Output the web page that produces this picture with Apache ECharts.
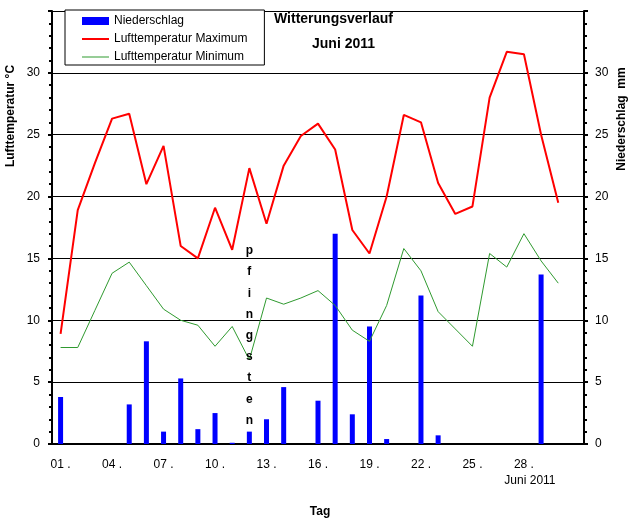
<!DOCTYPE html>
<html>
<head>
<meta charset="utf-8">
<script src="https://cdn.jsdelivr.net/npm/echarts@6/dist/echarts.min.js"></script>
<style>
  html, body { margin: 0; padding: 0; background: #fff; }
  #main { width: 634px; height: 526px; }
</style>
</head>
<body>
<div id="main"></div>
<script>
// Tage im Juni 2011 (letzter Platz leer)
var tage = ['01','02','03','04','05','06','07','08','09','10','11','12','13','14','15',
            '16','17','18','19','20','21','22','23','24','25','26','27','28','29','30',''];
// Niederschlag mm
var niederschlag = [3.8,0,0,0,3.2,8.3,1.0,5.3,1.2,2.5,0.1,1.0,2.0,4.6,0,
                    3.5,17.0,2.4,9.5,0.4,0,12.0,0.7,0,0,0,0,0,13.7,0];
// Lufttemperatur Maximum °C
var tMax = [8.9,18.9,22.7,26.3,26.7,21.0,24.1,16.0,15.0,19.1,15.7,22.3,17.8,22.5,24.9,
            25.9,23.8,17.3,15.4,20.0,26.6,26.0,21.1,18.6,19.2,28.0,31.7,31.5,25.0,19.5];
// Lufttemperatur Minimum °C
var tMin = [7.8,7.8,10.8,13.8,14.7,12.8,10.9,10.0,9.6,7.9,9.5,6.8,11.8,11.3,11.8,
            12.4,11.2,9.2,8.3,11.2,15.8,14.0,10.7,9.3,7.9,15.4,14.3,17.0,14.8,13.0];
// Achsenbeschriftung
var yTicks = [0,5,10,15,20,25,30];
var pfingstTag = 11; // Index: 12. Juni

var fnt = 'Arial, "Liberation Sans", sans-serif';

var myChart = echarts.init(document.getElementById('main'));

function yAchse(pos) {
  return {
    type: 'value',
    position: pos,
    min: 0,
    max: 35,
    interval: 5,
    axisLine: { show: true, lineStyle: { color: '#000', width: 2 } },
    axisTick: { show: true, length: 4, lineStyle: { color: '#000', width: 2 } },
    minorTick: { show: true, splitNumber: 5, length: 3, lineStyle: { color: '#000', width: 2 } },
    axisLabel: {
      margin: pos == 'left' ? 12 : 11,
      color: '#000', fontFamily: fnt, fontSize: 12,
      formatter: function (v) { return yTicks.indexOf(v) >= 0 ? String(v) : ''; }
    },
    splitLine: { show: pos == 'left', lineStyle: { color: '#000', width: 1 } }
  };
}

var option = {
  animation: false,
  backgroundColor: '#fff',
  textStyle: { fontFamily: fnt },
  title: [
    { text: 'Witterungsverlauf', left: 274, top: 12, padding: 0,
      textStyle: { fontSize: 14, fontWeight: 'bold', color: '#000', fontFamily: fnt } },
    { text: 'Juni 2011', left: 312, top: 37, padding: 0,
      textStyle: { fontSize: 14, fontWeight: 'bold', color: '#000', fontFamily: fnt } }
  ],
  legend: {
    orient: 'vertical',
    left: 65,
    top: 10,
    padding: [5, 17, 2, 17],
    itemGap: 6,
    itemWidth: 27,
    itemHeight: 8,
    borderColor: '#000',
    borderWidth: 1,
    backgroundColor: '#fff',
    textStyle: { fontSize: 12, color: '#000', fontFamily: fnt },
    data: [
      { name: 'Niederschlag', icon: 'rect' },
      { name: 'Lufttemperatur Maximum', icon: 'path://M0,0M27,8M0,3L27,3L27,5L0,5Z' },
      { name: 'Lufttemperatur Minimum', icon: 'path://M0,0M27,8M0,3.5L27,3.5L27,4.5L0,4.5Z' }
    ]
  },
  grid: { left: 52, right: 50, top: 11, bottom: 82, containLabel: false },
  xAxis: {
    type: 'category',
    data: tage,
    boundaryGap: true,
    axisLine: { lineStyle: { color: '#000', width: 2 } },
    axisTick: { interval: 0, length: 4, lineStyle: { color: '#000', width: 2 } },
    axisLabel: {
      interval: 2,
      margin: 13,
      color: '#000', fontFamily: fnt, fontSize: 12, lineHeight: 16,
      rich: {
        j: { fontSize: 12, color: '#000', fontFamily: fnt, lineHeight: 16, padding: [0, 0, 0, 12] }
      },
      formatter: function (v) {
        if (!v) return '';
        return v == '28' ? v + ' .\n{j|Juni 2011}' : v + ' .';
      }
    },
    splitLine: { show: false }
  },
  yAxis: [yAchse('left'), yAchse('right')],
  graphic: [
    { type: 'text', x: 11, y: 116, rotation: Math.PI / 2,
      style: { text: 'Lufttemperatur °C', font: 'bold 12px ' + fnt, fill: '#000',
               textAlign: 'center', textVerticalAlign: 'middle' } },
    { type: 'text', x: 622, y: 119, rotation: Math.PI / 2,
      style: { text: 'Niederschlag  mm', font: 'bold 12px ' + fnt, fill: '#000',
               textAlign: 'center', textVerticalAlign: 'middle' } },
    { type: 'text', x: 320, y: 512,
      style: { text: 'Tag', font: 'bold 12px ' + fnt, fill: '#000',
               textAlign: 'center', textVerticalAlign: 'middle' } }
  ],
  series: [
    {
      name: 'Niederschlag',
      type: 'bar',
      yAxisIndex: 1,
      barWidth: 5,
      itemStyle: { color: '#0000ff' },
      data: niederschlag,
      markPoint: {
        symbol: 'rect',
        symbolSize: 1,
        itemStyle: { color: 'rgba(0,0,0,0)' },
        label: {
          show: true,
          position: 'inside',
          formatter: 'p\nf\ni\nn\ng\ns\nt\ne\nn',
          lineHeight: 21.2,
          fontSize: 12,
          fontWeight: 'bold',
          color: '#000',
          fontFamily: fnt
        },
        data: [{ coord: [pfingstTag, 8.75] }]
      }
    },
    {
      name: 'Lufttemperatur Maximum',
      type: 'line',
      yAxisIndex: 0,
      symbol: 'none',
      lineStyle: { color: '#ff0000', width: 2 },
      itemStyle: { color: '#ff0000' },
      data: tMax
    },
    {
      name: 'Lufttemperatur Minimum',
      type: 'line',
      yAxisIndex: 0,
      symbol: 'none',
      lineStyle: { color: '#2f9a2f', width: 1 },
      itemStyle: { color: '#2f9a2f' },
      data: tMin
    }
  ]
};

myChart.setOption(option);
</script>
</body>
</html>
